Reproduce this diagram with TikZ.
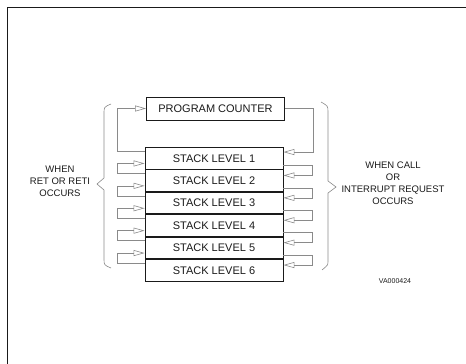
\documentclass[tikz,border=0pt]{standalone}
\usepackage{fontspec}
\setsansfont{Liberation Sans}
\usetikzlibrary{arrows.meta,calc,positioning}
\definecolor{StackInk}{HTML}{1A1A1A}
\definecolor{StackWire}{HTML}{8A8A8A}
\tikzset{
  every node/.style={font=\sffamily, text=StackInk},
  regbox/.style={draw=StackInk, line width=0.9pt, minimum width=138pt, inner sep=0pt, font=\sffamily\fontsize{11}{13}\selectfont},
  pcbox/.style={regbox, minimum height=23pt},
  levelbox/.style={regbox, minimum height=21.5pt},
  wire/.style={-{Triangle[open,length=11pt,width=6pt]}, draw=StackWire, line width=0.6pt},
  brace/.style={draw=StackWire, line width=0.6pt},
  caption/.style={align=center, font=\sffamily\fontsize{9.5}{12}\selectfont},
}

\begin{document}
\begin{tikzpicture}[x=1pt,y=-1pt]
  \useasboundingbox (0,0) rectangle (466,364);
  % Sheet edge
  \draw[StackInk, line width=0.8pt] (466,7) -- (7,7) -- (7,364);
  % Program counter
  \node[pcbox] (pc) at (215.5,108.5) {PROGRAM COUNTER};
  % Stack levels
  \node[levelbox] (lvl1) at (214,158.25) {STACK LEVEL 1};
  \foreach \i in {2,...,6}{
    \pgfmathtruncatemacro\prev{\i-1}
    \node[levelbox, below=0pt of lvl\prev] (lvl\i) {STACK LEVEL \i};
  }
  % Push path on the right (call)
  \draw[wire] (pc.east) -- ++(28,0) |- ($(lvl1.north east)+(0,5)$);
  \foreach \i/\j in {1/2,2/3,3/4,4/5,5/6}
    \draw[wire] ($(lvl\i.south east)+(0,-4)$) -- ++(29,0) |- ($(lvl\j.north east)+(0,6)$);
  % Pop path on the left (return)
  \draw[wire] ($(lvl1.north west)+(0,4)$) -- ++(-27,0) |- (pc.west);
  \foreach \i/\j in {2/1,3/2,4/3,5/4,6/5}
    \draw[wire] ($(lvl\i.north west)+(0,4)$) -- ++(-27,0) |- ($(lvl\j.south west)+(0,-6)$);
  % Braces
  \draw[brace] (111,104) .. controls (104,107) .. (104,114) -- (104,178) -- (97,184)
    -- (104,190) -- (104,259) .. controls (104,265) .. (111,268);
  \draw[brace] (321,102) .. controls (328,106) .. (328,112) -- (328,181) -- (336,187)
    -- (328,193) -- (328,261) .. controls (328,265) .. (322,270);
  % Notes
  \node[caption] (retnote) at (60,181) {WHEN\\RET OR RETI\\OCCURS};
  \node[caption] (callnote) at (393,183) {WHEN CALL\\OR\\INTERRUPT REQUEST\\OCCURS};
  \node[font=\sffamily\fontsize{7}{8}\selectfont] (figid) at (395,281) {VA000424};
\end{tikzpicture}
\end{document}
